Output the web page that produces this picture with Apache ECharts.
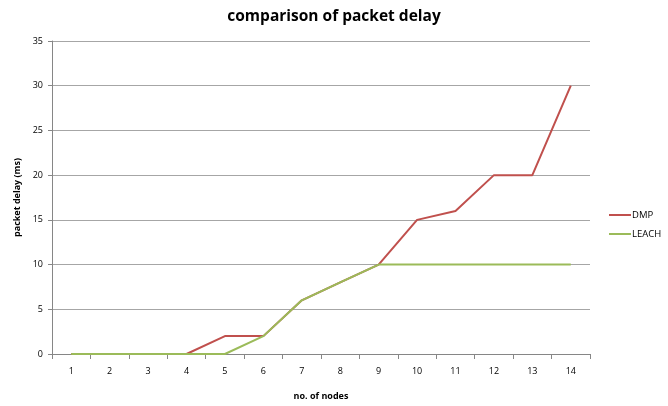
<!DOCTYPE html>
<html>
<head>
<meta charset="utf-8">
<script src="https://cdn.jsdelivr.net/npm/echarts@6/dist/echarts.min.js"></script>
<style>
html,body{margin:0;padding:0;background:#fff;}
#chart{width:668px;height:406px;}
</style>
</head>
<body>
<div id="chart"></div>
<script>
// Packet delay per node count for the two protocols
const nodes = ['1','2','3','4','5','6','7','8','9','10','11','12','13','14'];
const dmpDelay = [0,0,0,0,2,2,6,8,10,15,16,20,20,30];
const leachDelay = [0,0,0,0,0,2,6,8,10,10,10,10,10,10];
const yTicks = [0,5,10,15,20,25,30,35];

const font = '"Open Sans", "DejaVu Sans", sans-serif';
const chart = echarts.init(document.getElementById('chart'), null, {renderer:'canvas'});
chart.setOption({
  animation:false,
  backgroundColor:'#ffffff',
  title:{
    text:'comparison of packet delay',
    left:'center', top:4,
    textStyle:{fontFamily:font, fontSize:15.5, fontWeight:'bold', color:'#000'}
  },
  legend:{
    orient:'vertical', left:604, top:205, itemGap:9,
    itemWidth:22, itemHeight:2, icon:'rect',
    textStyle:{fontFamily:font, fontSize:9.5, color:'#000', padding:[0,0,0,-4]},
    data:['DMP','LEACH']
  },
  grid:{left:52, right:78, top:41, bottom:52, containLabel:false},
  xAxis:{
    type:'category', data:nodes, boundaryGap:true,
    name:'no. of nodes', nameLocation:'middle', nameGap:38,
    nameTextStyle:{fontFamily:font, fontSize:9, fontWeight:'bold', color:'#000'},
    axisLine:{lineStyle:{color:'#868686', width:1}},
    axisTick:{show:true, length:5, lineStyle:{color:'#868686'}},
    axisLabel:{fontFamily:font, fontSize:9, color:'#000', margin:13},
    splitLine:{show:false}
  },
  yAxis:{
    type:'value', min:yTicks[0], max:yTicks[yTicks.length-1], interval:5,
    name:'packet delay (ms)', nameLocation:'middle', nameGap:30, nameRotate:90,
    nameTextStyle:{fontFamily:font, fontSize:9, fontWeight:'bold', color:'#000'},
    axisLine:{show:true, lineStyle:{color:'#868686', width:1}},
    axisTick:{show:true, length:4, lineStyle:{color:'#868686'}},
    axisLabel:{fontFamily:font, fontSize:9, color:'#000', margin:9},
    splitLine:{lineStyle:{color:'#a6a6a6', width:1}}
  },
  series:[
    {name:'DMP', type:'line', data:dmpDelay, symbol:'none',
     itemStyle:{color:'#c0504d'}, lineStyle:{color:'#c0504d', width:2}},
    {name:'LEACH', type:'line', data:leachDelay, symbol:'none',
     itemStyle:{color:'#9bbb59'}, lineStyle:{color:'#9bbb59', width:2}}
  ]
});
</script>
</body>
</html>
